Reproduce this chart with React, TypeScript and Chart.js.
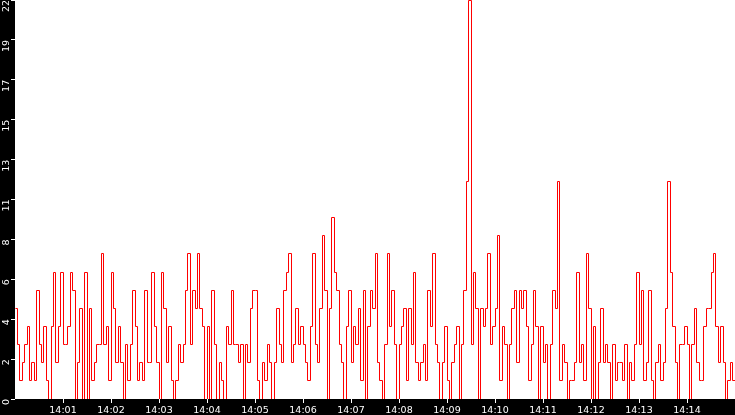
import { useEffect, useRef } from "react";
import { Chart, registerables } from "chart.js";

Chart.register(...registerables);

// Sampling of the series (seconds from 14:00:00)
const SAMPLE_SECONDS = 3;
const WINDOW_SECONDS = 900;

// Values, in 2.5-minute blocks
const rate1400to1402 = [
  5, 3, 1, 2, 3, 4, 1, 2, 1, 6,
  3, 2, 4, 1, 0, 4, 7, 2, 4, 7,
  3, 3, 4, 7, 6, 0, 2, 5, 0, 7,
  0, 5, 1, 2, 3, 3, 8, 3, 4, 1,
  7, 5, 2, 4, 2, 0, 3, 1, 3, 6,
];
const rate1402to1405 = [
  4, 1, 2, 1, 6, 2, 2, 7, 4, 2,
  0, 7, 5, 2, 4, 1, 0, 1, 3, 2,
  3, 6, 8, 3, 6, 5, 8, 5, 4, 0,
  4, 0, 6, 3, 0, 2, 1, 0, 4, 3,
  6, 3, 3, 2, 3, 0, 3, 2, 5, 6,
];
const rate1405to1407 = [
  6, 1, 0, 2, 1, 3, 2, 0, 2, 5,
  3, 2, 6, 7, 8, 2, 3, 5, 3, 4,
  3, 2, 1, 4, 8, 3, 2, 5, 9, 6,
  0, 5, 10, 7, 6, 3, 2, 0, 4, 6,
  2, 4, 3, 5, 1, 6, 0, 4, 6, 5,
];
const rate1407to1410 = [
  8, 2, 1, 0, 3, 8, 4, 6, 3, 0,
  3, 4, 5, 1, 5, 3, 7, 2, 1, 2,
  3, 1, 6, 4, 8, 3, 2, 0, 2, 4,
  1, 0, 2, 3, 4, 0, 3, 6, 12, 22,
  3, 7, 5, 0, 5, 4, 5, 8, 3, 4,
];
const rate1410to1412 = [
  5, 9, 1, 4, 3, 0, 3, 5, 6, 2,
  6, 5, 6, 4, 1, 3, 6, 4, 0, 4,
  2, 3, 0, 3, 6, 5, 12, 1, 3, 2,
  0, 1, 1, 2, 7, 2, 3, 1, 8, 5,
  0, 4, 0, 2, 5, 2, 3, 2, 0, 3,
];
const rate1412to1415 = [
  1, 2, 2, 1, 3, 0, 2, 1, 3, 7,
  3, 6, 1, 2, 6, 1, 0, 2, 3, 1,
  2, 5, 12, 7, 4, 2, 0, 3, 3, 4,
  3, 0, 3, 5, 2, 1, 1, 4, 5, 5,
  7, 8, 4, 2, 4, 2, 0, 1, 2, 1,
];

// Axis ticks
const xTickSeconds = [60, 120, 180, 240, 300, 360, 420, 480, 540, 600, 660, 720, 780, 840];
const xTickLabels = [
  "14:01", "14:02", "14:03", "14:04", "14:05", "14:06", "14:07",
  "14:08", "14:09", "14:10", "14:11", "14:12", "14:13", "14:14",
];
const yMax = 22;
const yTickValues = [0, 2.2, 4.4, 6.6, 8.8, 11, 13.2, 15.4, 17.6, 19.8, 22];
const yTickLabels = ["0", "2", "4", "6", "8", "11", "13", "15", "17", "19", "22"];

const series = [
  ...rate1400to1402,
  ...rate1402to1405,
  ...rate1405to1407,
  ...rate1407to1410,
  ...rate1410to1412,
  ...rate1412to1415,
];

const FONT = { family: "'DejaVu Sans', sans-serif", size: 9.5 };

const backgroundPlugin = {
  id: "bgPanels",
  beforeDraw(chart: any) {
    const { ctx, width, height, chartArea: a } = chart;
    ctx.save();
    ctx.fillStyle = "#000000";
    ctx.fillRect(0, 0, width, height);
    ctx.fillStyle = "#ffffff";
    ctx.fillRect(a.left, a.top, a.right - a.left, a.bottom - a.top);
    ctx.restore();
  },
};

// Snap the scale-computed vertices onto pixel centres so the 1px trace is crisp
const pixelSnapPlugin = {
  id: "pixelSnap",
  afterDatasetsUpdate(chart: any) {
    chart.data.datasets.forEach((_d: any, di: number) => {
      const meta = chart.getDatasetMeta(di);
      meta.data.forEach((pt: any) => {
        pt.x = Math.floor(pt.x) + 0.5;
        pt.y = Math.floor(pt.y) + 0.5;
      });
    });
  },
};

export default function App() {
  const canvasRef = useRef<HTMLCanvasElement | null>(null);

  useEffect(() => {
    const canvas = canvasRef.current;
    if (!canvas) return;
    const points = series.map((v, i) => ({ x: i * SAMPLE_SECONDS, y: v }));
    points.push({ x: WINDOW_SECONDS, y: series[series.length - 1] });

    const chart = new Chart(canvas, {
      type: "line",
      data: {
        datasets: [
          {
            data: points,
            borderColor: "#ff0000",
            borderWidth: 1,
            pointRadius: 0,
            stepped: true,
            fill: false,
            tension: 0,
          },
        ],
      },
      options: {
        animation: false,
        responsive: false,
        devicePixelRatio: 1,
        layout: { padding: 0 },
        plugins: {
          legend: { display: false },
          tooltip: { enabled: false },
        },
        scales: {
          x: {
            type: "linear",
            position: "bottom",
            min: 0,
            max: WINDOW_SECONDS,
            border: { display: false },
            grid: {
              display: true,
              drawOnChartArea: false,
              drawTicks: true,
              tickLength: 4,
              color: "#ffffff",
              lineWidth: 1,
            },
            ticks: {
              color: "#ffffff",
              font: FONT,
              padding: 2,
              autoSkip: false,
              minRotation: 0,
              maxRotation: 0,
              callback: (value: any) => {
                const i = xTickSeconds.indexOf(Number(value));
                return i >= 0 ? xTickLabels[i] : "";
              },
            },
            afterBuildTicks: (scale: any) => {
              scale.ticks = xTickSeconds.map((v) => ({ value: v }));
            },
            afterFit: (scale: any) => {
              scale.height = 16;
              scale.paddingLeft = 0;
              scale.paddingRight = 0;
              scale.paddingTop = 0;
              scale.paddingBottom = 0;
            },
          },
          y: {
            type: "linear",
            position: "left",
            min: 0,
            max: yMax,
            border: { display: false },
            grid: {
              display: true,
              drawOnChartArea: false,
              drawTicks: true,
              tickLength: 4,
              color: "#ffffff",
              lineWidth: 1,
            },
            ticks: {
              color: "#ffffff",
              font: FONT,
              padding: 4,
              autoSkip: false,
              minRotation: 90,
              maxRotation: 90,
              callback: (_value: any, index: number) => yTickLabels[index] ?? "",
            },
            afterBuildTicks: (scale: any) => {
              scale.ticks = yTickValues.map((v) => ({ value: v }));
            },
            afterFit: (scale: any) => {
              scale.width = 15;
              scale.paddingLeft = 0;
              scale.paddingRight = 0;
              scale.paddingTop = 0;
              scale.paddingBottom = 0;
            },
          },
        },
      },
      plugins: [backgroundPlugin, pixelSnapPlugin],
    });

    return () => chart.destroy();
  }, []);

  return (
    <div style={{ position: "fixed", left: 0, top: 0, width: 735, height: 415, background: "#000" }}>
      <canvas ref={canvasRef} width={735} height={415} style={{ display: "block" }} />
    </div>
  );
}
